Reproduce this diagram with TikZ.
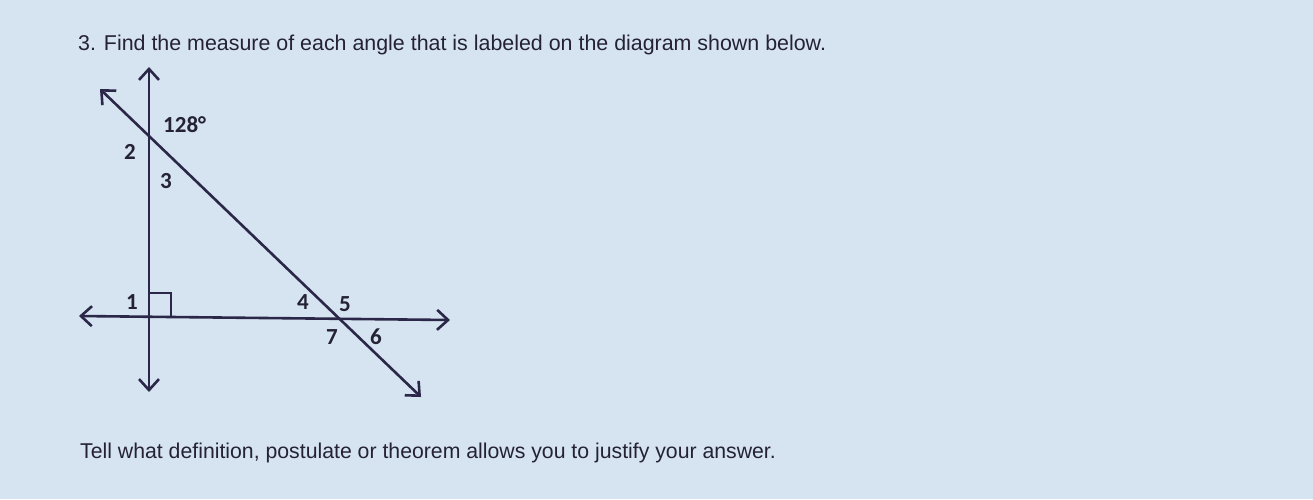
\documentclass[tikz,border=0pt]{standalone}
\usepackage{fontspec}
\setmainfont{Liberation Sans}
\newfontfamily\labelfont{Carlito}[BoldFont={Carlito Bold}]
\usetikzlibrary{positioning,arrows.meta}
\definecolor{screenblue}{RGB}{214,228,241}
\definecolor{inkline}{RGB}{43,39,72}
\definecolor{inktext}{RGB}{36,34,52}
\tikzset{
  ray/.style={line width=2.6pt, draw=inkline,
    {Straight Barb[length=11pt,width=20pt,line width=2.6pt]}-{Straight Barb[length=11pt,width=20pt,line width=2.6pt]}},
  anglab/.style={font=\labelfont\bfseries\fontsize{23}{23}\selectfont, text=inktext, inner sep=0pt},
  question/.style={font=\fontsize{21.4}{24}\selectfont, text=inktext, inner sep=0pt, anchor=base west}
}
\begin{document}
\begin{tikzpicture}[x=1pt,y=-1pt]
      \fill[screenblue] (0,0) rectangle (1313,499);
      \useasboundingbox (0,0) rectangle (1313,499);

      \node [question] (ask) at (78,50) {3. Find the measure of each angle that is labeled on the diagram shown below.};
      \node [question, xscale=0.993] (tell) at (80,458) {Tell what definition, postulate or theorem allows you to justify your answer.};

      % the three lines and where they meet
      \coordinate (top) at (149,137);
      \coordinate (foot) at (149,317);
      \coordinate (cross) at (339,318);

      \coordinate (up) at (149,67);
      \coordinate (down) at (149,392);
      \coordinate (left) at (79,316);
      \coordinate (right) at (450,320);
      \coordinate (upleft) at (100,89);
      \coordinate (downright) at (421,397);

      \draw[ray] (down) -- (up);
      \draw[ray] (left) -- (right);
      \draw[ray] (upleft) -- (downright);

      \draw[line width=2.4pt, draw=inkline] ([yshift=24pt]foot) -| ([xshift=22pt]foot);

      \node [anglab, above right=4pt and 14pt of top] (given) {128°};
      \node [anglab, below left=7pt and 13pt of top] (a2) {2};
      \node [anglab, below right=36pt and 11pt of top] (a3) {3};
      \node [anglab, above left=7pt and 11pt of foot] (a1) {1};
      \node [anglab, above left=8pt and 30pt of cross] (a4) {4};
      \node [anglab, above right=6pt and 0pt of cross] (a5) {5};
      \node [anglab, below left=11pt and 1pt of cross] (a7) {7};
      \node [anglab, below right=11pt and 31pt of cross] (a6) {6};
    \end{tikzpicture}
\end{document}
